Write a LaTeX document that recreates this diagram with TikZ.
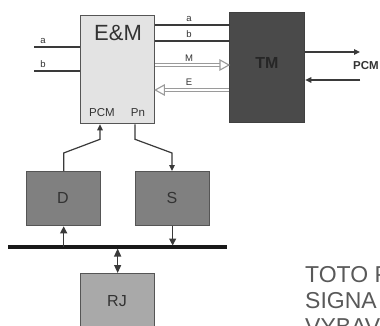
\documentclass[tikz,border=0pt]{standalone}
\usepackage{fontspec}
\setmainfont{Liberation Sans}
\usetikzlibrary{calc,arrows.meta}
\definecolor{emfill}{HTML}{E3E3E3}
\definecolor{tmfill}{HTML}{4A4A4A}
\definecolor{dsfill}{HTML}{808080}
\definecolor{rjfill}{HTML}{A9A9A9}
\definecolor{boxline}{HTML}{555555}
\definecolor{linecol}{HTML}{3A3A3A}
\definecolor{txtcol}{HTML}{333333}
\definecolor{dblcol}{HTML}{9A9A9A}
\begin{document}
\begin{tikzpicture}[x=1pt,y=-1pt,
  box/.style={draw=boxline, line width=1.3pt, inner sep=0pt, anchor=north west},
  conn/.style={draw=linecol, line width=1.2pt},
  sig/.style={draw=linecol, line width=1.7pt},
  tipa/.style={-{Triangle[length=7pt,width=7pt]}},
  tipb/.style={-{Triangle[length=6pt,width=5.5pt]}},
  dbl/.style={draw=dblcol, line width=1.1pt, double=white, double distance=2.4pt},
  head/.style={draw=dblcol, line width=1.1pt, fill=white, line join=miter},
  lbl/.style={font=\fontsize{9.5}{11}\selectfont, text=txtcol, inner sep=0pt},
  big/.style={text=txtcol, inner sep=0pt},
  cut/.style={anchor=base west, inner sep=0pt, text=black!65, font=\fontsize{23}{26}\selectfont}]
\useasboundingbox (0,0) rectangle (380,326);
\fill[white] (0,0) rectangle (380,326);

% boxes
\node[box, fill=emfill, minimum width=74pt, minimum height=108pt] (em) at (80,15) {};
\node[box, fill=tmfill, draw=black!75, minimum width=75pt, minimum height=110pt] (tm) at (229,12) {};
\node[box, fill=dsfill, minimum width=74pt, minimum height=54pt] (d) at (26,171) {};
\node[box, fill=dsfill, minimum width=74pt, minimum height=54pt] (s) at (135,171) {};
\node[box, fill=rjfill, minimum width=74pt, minimum height=62pt] (rj) at (80,273) {};

% box texts
\node[big, font=\fontsize{22}{24}\selectfont] (emt) at (118,33) {E\&M};
\node[big, text=black!85, font=\fontsize{16}{18}\selectfont\bfseries] (tmt) at (267,63) {TM};
\node[big, font=\fontsize{16}{18}\selectfont] (dt) at (63,198) {D};
\node[big, font=\fontsize{16}{18}\selectfont] (st) at (172,198) {S};
\node[big, font=\fontsize{16}{18}\selectfont] (rjt) at (117,301) {RJ};
\node[big, font=\fontsize{11.5}{13}\selectfont] (pcmt) at (102,113) {PCM};
\node[big, font=\fontsize{11.5}{13}\selectfont] (pnt) at (138,113) {Pn};

% inputs a, b
\coordinate (ina) at (34,47);
\coordinate (inb) at (34,71);
\draw[sig] (ina) -- (ina -| em.west);
\draw[sig] (inb) -- (inb -| em.west);
\node[lbl] (la) at (43,41) {a};
\node[lbl] (lb) at (43,64) {b};

% E&M -> TM lines
\draw[sig] ($(em.north east)+(0,10)$) -- ($(em.north east)+(75,10)$);
\draw[sig] ($(em.north east)+(0,26)$) -- ($(em.north east)+(75,26)$);
\node[lbl] (la2) at (189,19) {a};
\node[lbl] (lb2) at (189,34) {b};
\node[lbl] (lm) at (189,58) {M};
\node[lbl] (le) at (189,82) {E};

% M double arrow
\coordinate (ms) at ($(em.north east)+(0,50)$);
\coordinate (me) at ($(tm.north west)+(0,53)$);
\draw[dbl] (ms) -- ($(me)+(-8,0)$);
\draw[head] ($(me)+(-9,-5)$) -- (me) -- ($(me)+(-9,5)$) -- cycle;
% E double arrow
\coordinate (es) at ($(tm.north west)+(0,78)$);
\coordinate (ee) at ($(em.north east)+(0,75)$);
\draw[dbl] (es) -- ($(ee)+(8,0)$);
\draw[head] ($(ee)+(9,-5)$) -- (ee) -- ($(ee)+(9,5)$) -- cycle;

% PCM out / in
\coordinate (po) at (360,52);
\coordinate (pi) at (360,80);
\draw[conn, tipb] (po -| tm.east) -- (po);
\draw[conn, tipb] (pi) -- (pi -| tm.east);
\node[big, font=\fontsize{11.5}{13}\selectfont\bfseries] (pcmr) at (366,66) {PCM};

% D -> E&M (PCM)
\draw[conn, tipb] (d.north) -- ++(0,-18) -- ($(em.south west)+(20,15)$) -- ($(em.south west)+(20,0)$);
% E&M (Pn) -> S
\draw[conn, tipb] ($(em.south west)+(55,0)$) -- ++(0,15) -- ($(s.north west)+(37,-18)$) -- ($(s.north west)+(37,0)$);

% bus
\coordinate (busl) at (8,247);
\coordinate (busr) at (227,247);
\draw[line width=3.5pt, draw=black!90] (busl) -- (busr);
\draw[conn, tipa] (d.south |- busl) -- (d.south);
\draw[conn, tipa] (s.south) -- ($(s.south |- busl)+(0,-1.5)$);
\draw[conn, {Triangle[length=8pt,width=7pt]}-{Triangle[length=8pt,width=7pt]}] ($(rj.north |- busl)+(0,1.5)$) -- (rj.north);

% text cut off at the picture's edge, as in the reference
\node[cut] (t1) at (305,282) {TOTO P};
\node[cut] (t2) at (305,308) {SIGNA};
\node[cut] (t3) at (305,334) {VYBAV};
\end{tikzpicture}
\end{document}
